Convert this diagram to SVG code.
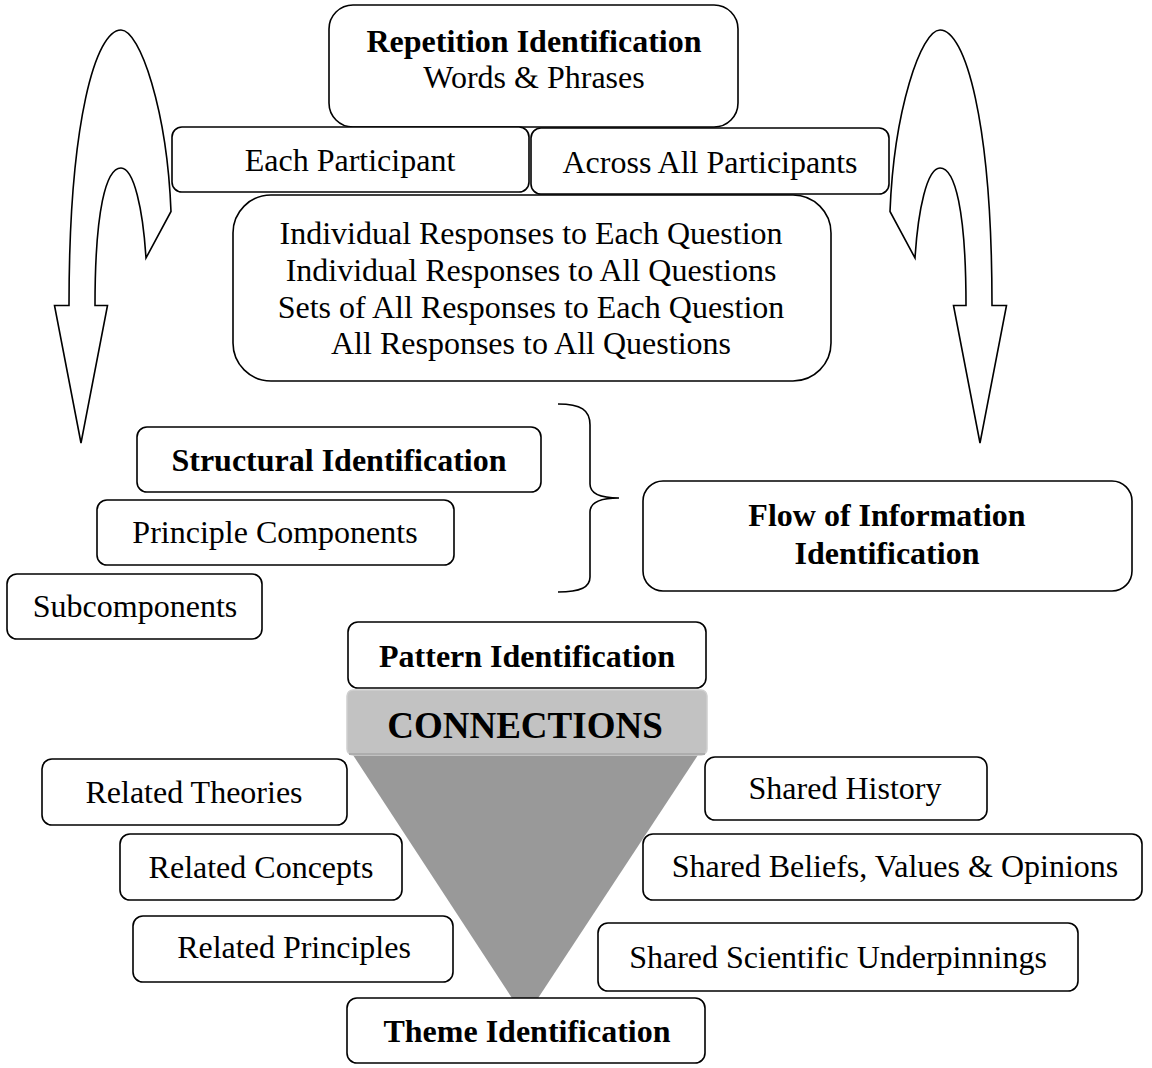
<svg xmlns="http://www.w3.org/2000/svg" width="1152" height="1068" viewBox="0 0 1152 1068">
  <style>
    .box { fill: #ffffff; stroke: #000000; stroke-width: 1.6; }
    .t { font-family: "Liberation Serif", "Times New Roman", serif; font-size: 32px; fill: #000000; text-anchor: middle; }
    .b { font-weight: bold; }
    .outline { fill: #ffffff; stroke: #000000; stroke-width: 1.6; stroke-linejoin: miter; }
    .brace { fill: none; stroke: #000000; stroke-width: 1.6; }
  </style>
  <defs>
    <!-- U-turn block arrow curling over the top and pointing down -->
    <path id="uturn" d="M171,211.5 C167,110 140,30 121,30 C96,30 69,120 69,305.5 L54.5,305.5 L81,443 L107.5,305.5 L95,305.5 C95,210 106,168 121,168 C134,168 143,210 146,258 Z"/>
  </defs>
  <rect width="1152" height="1068" fill="#ffffff"/>

  <g id="connectors">
    <use href="#uturn" class="outline"/>
    <use href="#uturn" class="outline" transform="translate(1061,0) scale(-1,1)"/>
    <path class="brace" d="M558,404 C581,404 590,410 590,425 L590,484 C590,493 599,498 619,498 C599,498 590,503 590,512 L590,577 C590,587 581,592 558,592"/>
  </g>

  <g id="repetition">
    <rect class="box" x="329" y="5" width="409" height="122" rx="24"/>
    <text class="t b" x="534" y="52">Repetition Identification</text>
    <text class="t" x="534" y="88">Words &amp; Phrases</text>
  </g>
  <g id="each-participant">
    <rect class="box" x="172" y="127" width="357" height="65" rx="10"/>
    <text class="t" x="350" y="171">Each Participant</text>
  </g>
  <g id="across-participants">
    <rect class="box" x="531" y="128" width="358" height="66" rx="10"/>
    <text class="t" x="710" y="173">Across All Participants</text>
  </g>
  <g id="responses">
    <rect class="box" x="233" y="195" width="598" height="186" rx="38"/>
    <text class="t" x="531" y="244">Individual Responses to Each Question</text>
    <text class="t" x="531" y="281">Individual Responses to All Questions</text>
    <text class="t" x="531" y="318">Sets of All Responses to Each Question</text>
    <text class="t" x="531" y="354">All Responses to All Questions</text>
  </g>

  <g id="structural">
    <rect class="box" x="137" y="427" width="404" height="65" rx="10"/>
    <text class="t b" x="339" y="471">Structural Identification</text>
  </g>
  <g id="principle-components">
    <rect class="box" x="97" y="500" width="357" height="65" rx="10"/>
    <text class="t" x="275" y="543">Principle Components</text>
  </g>
  <g id="subcomponents">
    <rect class="box" x="7" y="574" width="255" height="65" rx="10"/>
    <text class="t" x="135" y="617">Subcomponents</text>
  </g>
  <g id="flow">
    <rect class="box" x="643" y="481" width="489" height="110" rx="20"/>
    <text class="t b" x="887" y="526">Flow of Information</text>
    <text class="t b" x="887" y="564">Identification</text>
  </g>

  <g id="connections">
    <polygon points="353,755 698,755 525,1018" fill="#999999"/>
    <rect x="347" y="690" width="360" height="65" rx="6" fill="#c2c2c2" stroke="#cfcfcf" stroke-width="1.5"/>
    <line x1="349" y1="754" x2="705" y2="754" stroke="#adadad" stroke-width="2"/>
    <text class="t b" x="525" y="738" style="font-size:37px">CONNECTIONS</text>
  </g>
  <g id="pattern">
    <rect class="box" x="348" y="622" width="358" height="66" rx="10"/>
    <text class="t b" x="527" y="667">Pattern Identification</text>
  </g>

  <g id="related-theories">
    <rect class="box" x="42" y="759" width="305" height="66" rx="10"/>
    <text class="t" x="194" y="803">Related Theories</text>
  </g>
  <g id="related-concepts">
    <rect class="box" x="120" y="834" width="282" height="66" rx="10"/>
    <text class="t" x="261" y="878">Related Concepts</text>
  </g>
  <g id="related-principles">
    <rect class="box" x="133" y="916" width="320" height="66" rx="10"/>
    <text class="t" x="294" y="958">Related Principles</text>
  </g>
  <g id="shared-history">
    <rect class="box" x="705" y="757" width="282" height="63" rx="10"/>
    <text class="t" x="845" y="799">Shared History</text>
  </g>
  <g id="shared-beliefs">
    <rect class="box" x="643" y="834" width="499" height="66" rx="10"/>
    <text class="t" x="895" y="877">Shared Beliefs, Values &amp; Opinions</text>
  </g>
  <g id="shared-science">
    <rect class="box" x="598" y="923" width="480" height="68" rx="10"/>
    <text class="t" x="838" y="968">Shared Scientific Underpinnings</text>
  </g>
  <g id="theme">
    <rect class="box" x="347" y="998" width="358" height="65" rx="10"/>
    <text class="t b" x="527" y="1042">Theme Identification</text>
  </g>
</svg>
